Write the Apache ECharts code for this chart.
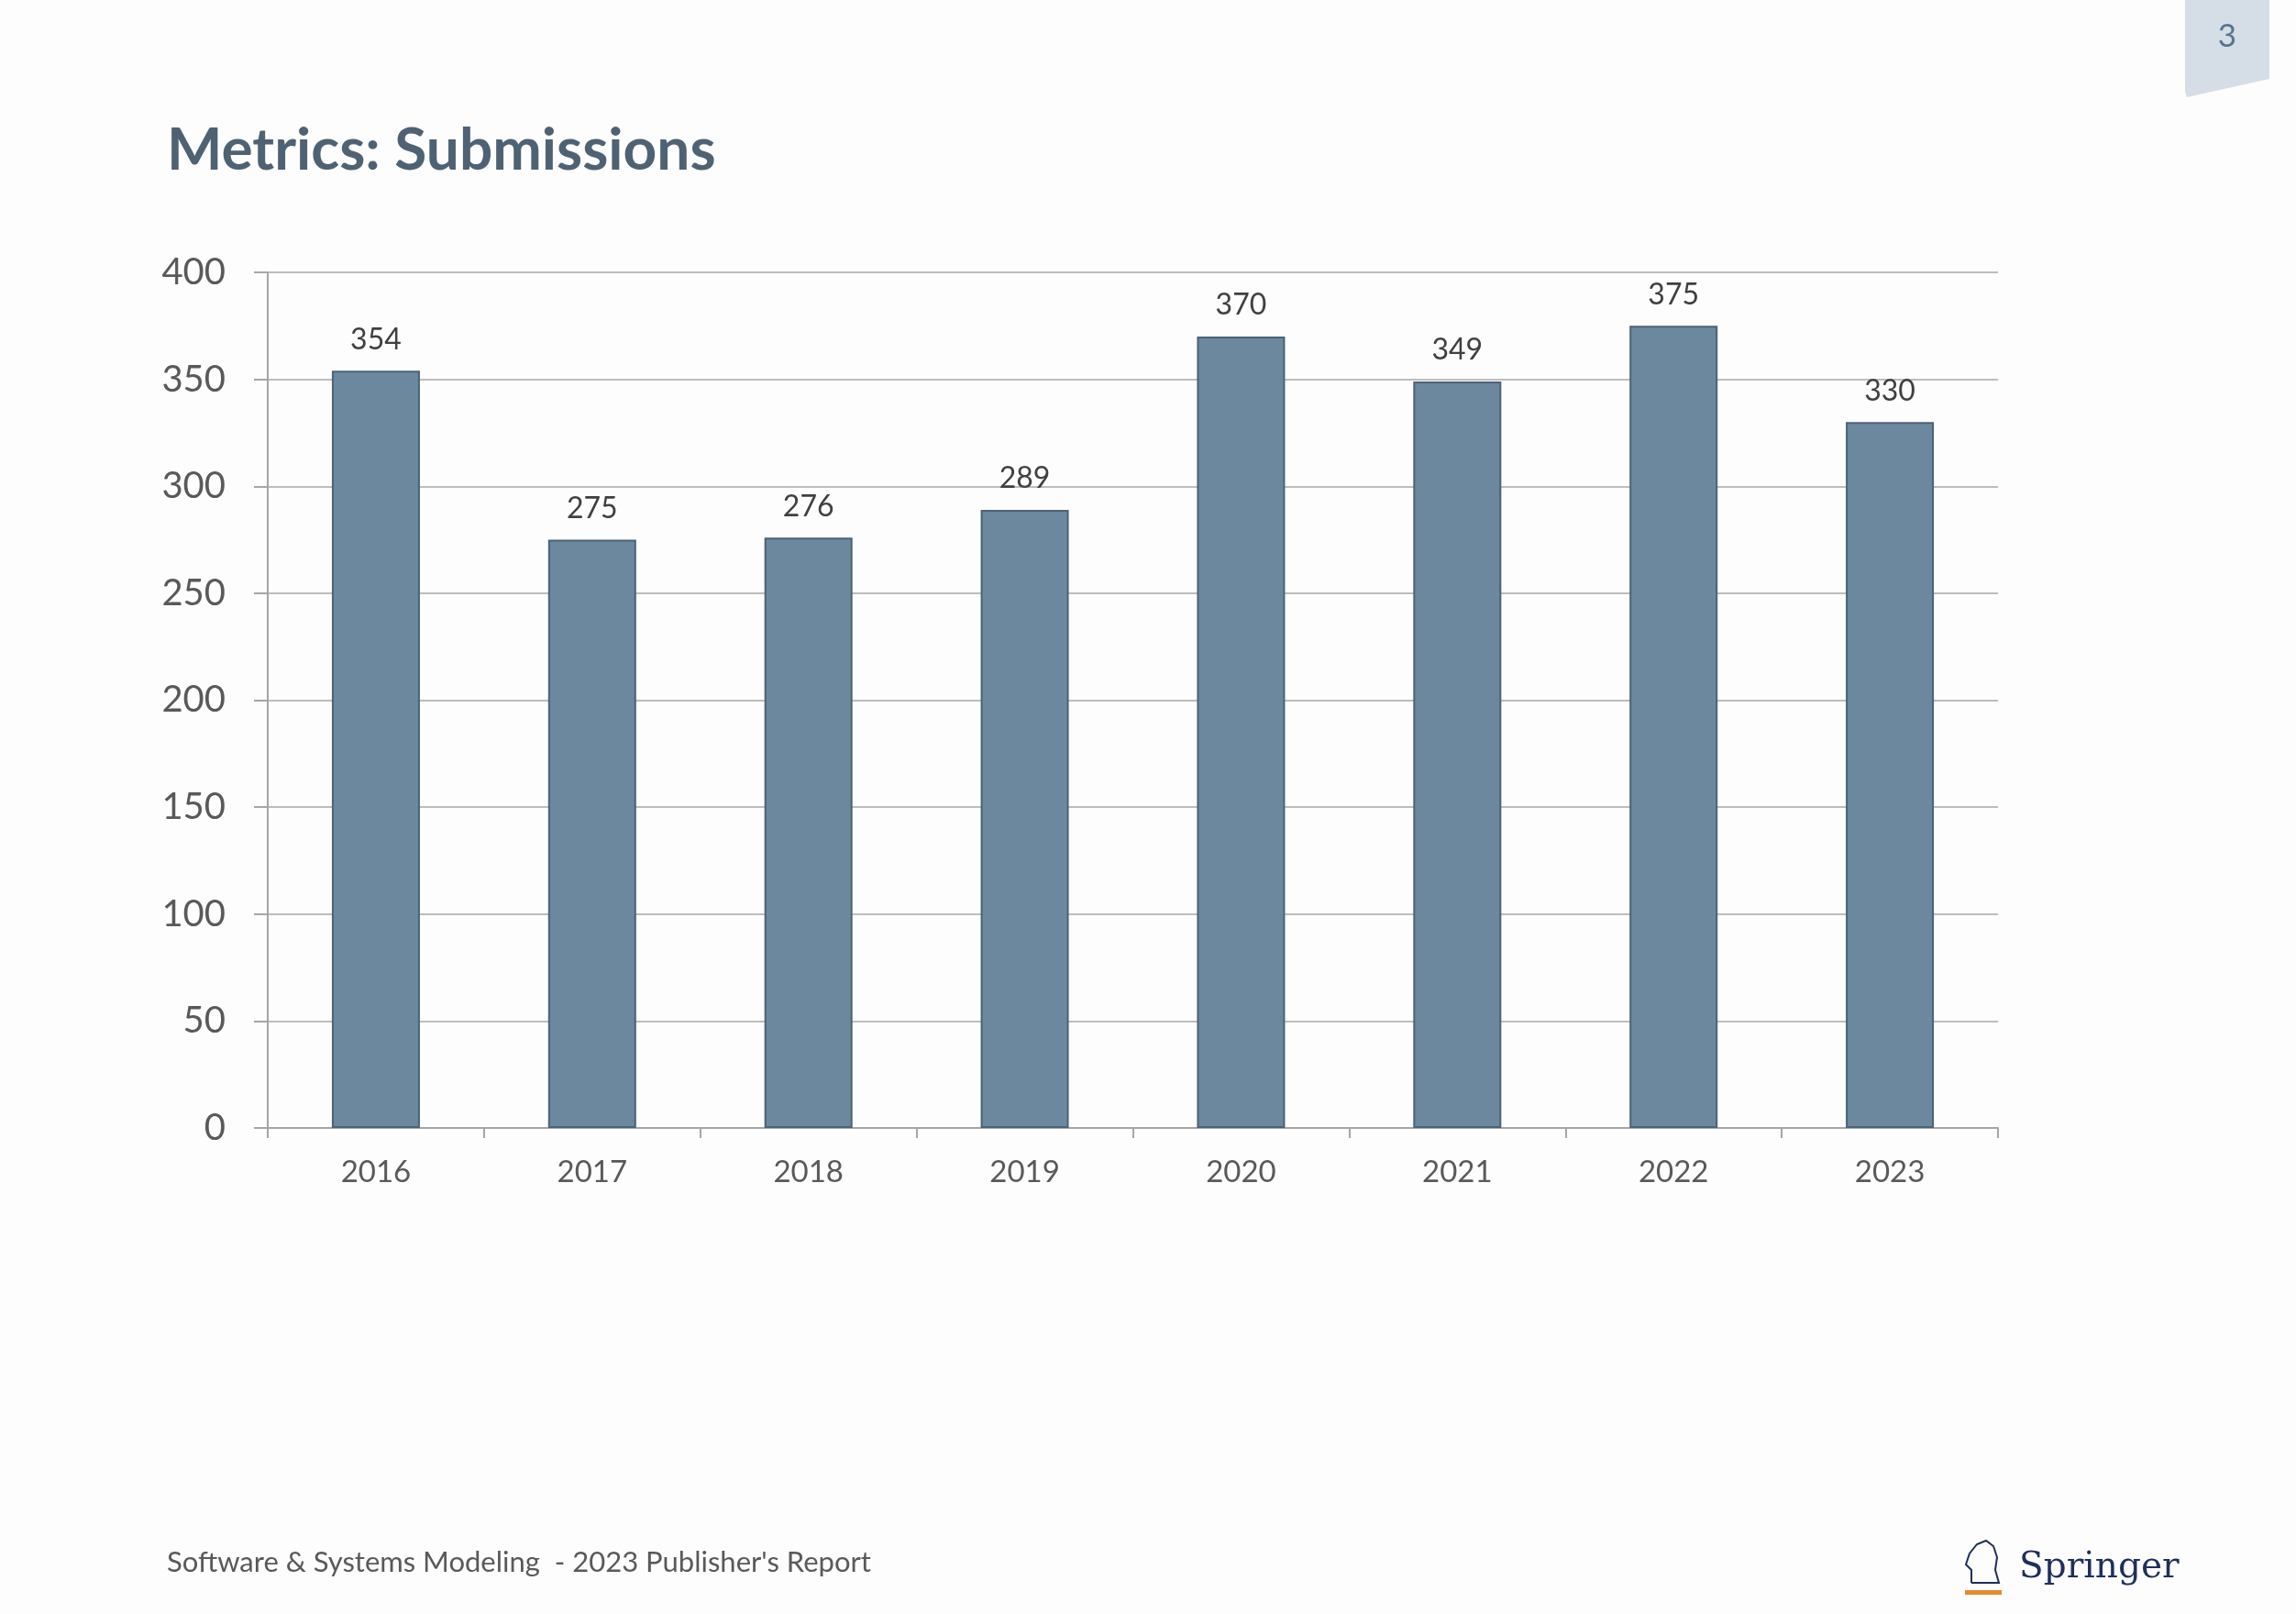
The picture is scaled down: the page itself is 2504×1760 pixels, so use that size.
<!DOCTYPE html>
<html>
<head>
<meta charset="utf-8">
<script src="https://cdn.jsdelivr.net/npm/echarts@6/dist/echarts.min.js"></script>
<style>
  html, body { margin: 0; padding: 0; background: #fdfdfd; }
  #chart { width: 2504px; height: 1760px; }
</style>
</head>
<body>
<div id="chart"></div>
<script>
// submissions per year
var years = ['2016', '2017', '2018', '2019', '2020', '2021', '2022', '2023'];
var submissions = [354, 275, 276, 289, 370, 349, 375, 330];
var yTicks = [0, 50, 100, 150, 200, 250, 300, 350, 400];

var font = 'Lato, "Open Sans", sans-serif';

var chart = echarts.init(document.getElementById('chart'));

var option = {
    backgroundColor: '#fdfdfd',
    animation: false,
    grid: { left: 292, right: 325, top: 297, bottom: 530 },
    xAxis: {
        type: 'category',
        data: years,
        axisLine: { lineStyle: { color: '#a6a6a6', width: 2 } },
        axisTick: { show: true, length: 11, lineStyle: { color: '#a6a6a6', width: 2 } },
        axisLabel: { color: '#595959', fontSize: 33, fontFamily: font, margin: 32 }
    },
    yAxis: {
        type: 'value',
        min: yTicks[0],
        max: yTicks[yTicks.length - 1],
        interval: 50,
        axisLine: { show: true, lineStyle: { color: '#a6a6a6', width: 2 } },
        axisTick: { show: true, length: 15, lineStyle: { color: '#a6a6a6', width: 2 } },
        axisLabel: { color: '#595959', fontSize: 40, fontFamily: font, margin: 46 },
        splitLine: { lineStyle: { color: '#bdbdbd', width: 2 } }
    },
    series: [{
        type: 'bar',
        data: submissions,
        barWidth: '40.7%',
        itemStyle: { color: '#6b889f', borderColor: '#4d6275', borderWidth: 2 },
        label: {
            show: true,
            position: 'top',
            distance: 18,
            color: '#404040',
            fontSize: 32,
            fontFamily: font
        }
    }],
    graphic: [
        {
            type: 'text', left: 182, top: 132,
            style: { text: 'Metrics: Submissions', fill: '#4f6274', font: 'bold 64px ' + font }
        },
        {
            type: 'text', left: 182, top: 1688,
            style: { text: "Software & Systems Modeling  - 2023 Publisher's Report", fill: '#595959', font: '31px ' + font }
        },
        // page tab top right
        {
            type: 'polygon',
            shape: { points: [[2383, 0], [2475, 0], [2475, 86], [2385, 106], [2383, 100]] },
            style: { fill: '#d5dee6' }
        },
        {
            type: 'text', x: 2429, y: 40,
            style: { text: '3', fill: '#5a7390', font: '35px ' + font, align: 'center', verticalAlign: 'middle' }
        },
        // springer logo
        {
            type: 'text', left: 2202, top: 1690,
            style: { text: 'Springer', fill: '#1f2f5c', font: '39px "DejaVu Serif", "Liberation Serif", serif' }
        },
        {
            type: 'rect',
            shape: { x: 2143, y: 1734, width: 40, height: 5 },
            style: { fill: '#e58a2e' }
        },
        {
            type: 'polyline',
            shape: { points: [[2150, 1726], [2150, 1712], [2144, 1706], [2148, 1694], [2156, 1684], [2166, 1680], [2174, 1686], [2178, 1698], [2176, 1712], [2180, 1726], [2150, 1726]] },
            style: { fill: 'none', stroke: '#1f2f5c', lineWidth: 2 }
        }
    ]
};

chart.setOption(option);
</script>
</body>
</html>
